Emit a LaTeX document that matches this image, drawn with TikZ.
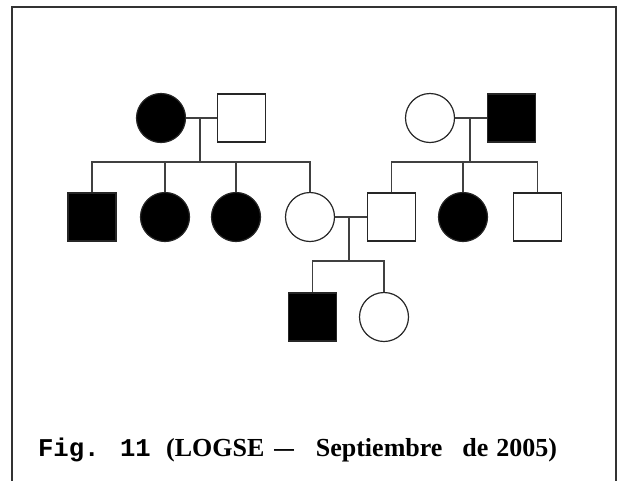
\documentclass[tikz,border=0pt]{standalone}
\usepackage{fontspec}
\setmainfont{Liberation Serif}
\newfontfamily\monofont{Liberation Mono}
\begin{document}
\begin{tikzpicture}[x=1pt,y=-1pt,
  line width=1.2pt,
  male/.style={draw=black!85,minimum size=48pt,inner sep=0pt,line width=1.2pt},
  female/.style={circle,draw=black!85,minimum size=49pt,inner sep=0pt,line width=1.2pt},
  aff/.style={fill=black},
  link/.style={draw=black!75,line width=1.2pt}]
\useasboundingbox (0,0) rectangle (621,480);
\draw[black!80,line width=2pt] (12,486) -- (12,7) -- (616,7) -- (616,486);
% generation I
\node[female,aff] (m1) at (161,118) {};
\node[male] (f1) at (241.5,118) {};
\node[female] (m2) at (430,118) {};
\node[male,aff] (f2) at (511.5,118) {};
% generation II
\node[male,aff] (c1) at (92,217) {};
\node[female,aff] (c2) at (165,217) {};
\node[female,aff] (c3) at (236,217) {};
\node[female] (c4) at (310,217) {};
\node[male] (d1) at (391.5,217) {};
\node[female,aff] (d2) at (463,217) {};
\node[male] (d3) at (537.5,217) {};
% generation III
\node[male,aff] (g1) at (312.5,317) {};
\node[female] (g2) at (384,317) {};
% left family
\draw[link] (m1.east) -- (f1.west);
\coordinate (s1) at (200,162);
\coordinate (t1) at (200,118);
\draw[link] (t1) -- (s1);
\draw[link] (c1.north) |- (s1) -| (c4.north);
\draw[link] (c2.north) -- (c2.north |- s1);
\draw[link] (c3.north) -- (c3.north |- s1);
% right family
\coordinate (s2) at (470,162);
\coordinate (t2) at (470,118);
\draw[link] (m2.east) -- (f2.west);
\draw[link] (t2) -- (s2);
\draw[link] (d1.north) |- (s2) -| (d3.north);
\draw[link] (d2.north) -- (d2.north |- s2);
% generation II couple
\coordinate (s3) at (349,261);
\coordinate (t3) at (349,217);
\draw[link] (c4.east) -- (d1.west);
\draw[link] (t3) -- (s3);
\draw[link] (g1.north) |- (s3) -| (g2.north);
% caption
\node[anchor=base west,inner sep=0pt,font=\bfseries] (cap) at (37.5,456.5)
  {{\monofont\fontsize{25.6}{28}\selectfont Fig. 11 }%
   {\fontsize{26}{28}\selectfont (LOGSE\hspace{10pt}\scalebox{1.5}[1]{–}\hspace{22pt}Septiembre\hspace{20pt}de\hspace{8pt}2005)}};
\end{tikzpicture}
\end{document}
